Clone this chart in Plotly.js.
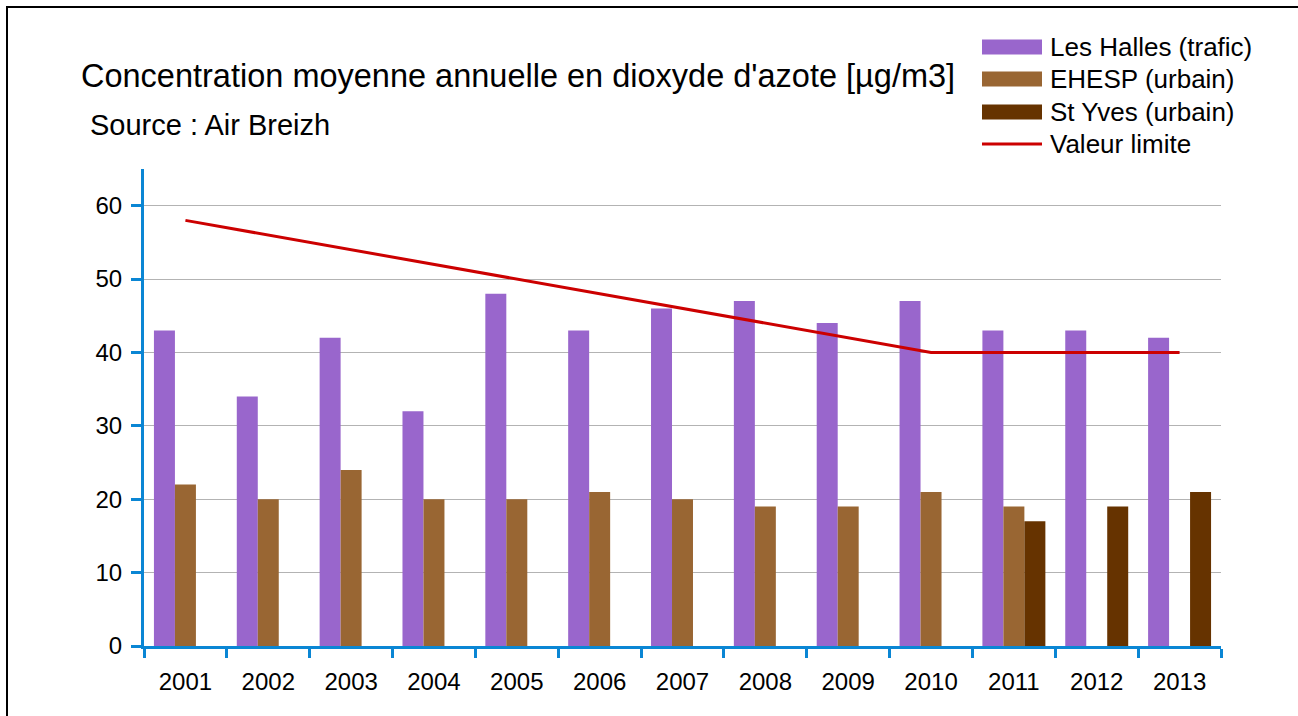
<!DOCTYPE html>
<html>
<head>
<meta charset="utf-8">
<script src="https://cdn.plot.ly/plotly-3.0.1.min.js"></script>
<style>
  html, body { margin: 0; padding: 0; background: #fff; overflow: hidden; }
  #chart { width: 1298px; height: 716px; }
</style>
</head>
<body>
<div id="chart"></div>
<script>
const years = ["2001","2002","2003","2004","2005","2006","2007","2008","2009","2010","2011","2012","2013"];
const lesHalles = [43, 34, 42, 32, 48, 43, 46, 47, 44, 47, 43, 43, 42];
const ehesp     = [22, 20, 24, 20, 20, 21, 20, 19, 19, 21, 19, null, null];
const stYves    = [null, null, null, null, null, null, null, null, null, null, 17, 19, 21];
const valeurLimite = [58, 56, 54, 52, 50, 48, 46, 44, 42, 40, 40, 40, 40];

const seriesNames = ["Les Halles (trafic)", "EHESP (urbain)", "St Yves (urbain)", "Valeur limite"];
const seriesColors = ["#9966cc", "#996633", "#663300", "#cc0000"];
const titleText = "Concentration moyenne annuelle en dioxyde d'azote [µg/m3]";
const subtitleText = "Source : Air Breizh";

const FONT = "Liberation Sans, Arial, sans-serif";
const AXIS_BLUE = "#0a86d4";

// plot area in pixels (for converting decoration positions to paper coords)
const PL = 144, PR = 1221, PT = 169, PB = 646;
const px = v => (v - PL) / (PR - PL);
const py = v => (PB - v) / (PB - PT);

const traces = [
  { type: "bar", name: seriesNames[0], x: years, y: lesHalles, marker: { color: seriesColors[0] } },
  { type: "bar", name: seriesNames[1], x: years, y: ehesp, marker: { color: seriesColors[1] } },
  { type: "bar", name: seriesNames[2], x: years, y: stYves, marker: { color: seriesColors[2] } },
  { type: "scatter", mode: "lines", name: seriesNames[3], x: years, y: valeurLimite,
    line: { color: seriesColors[3], width: 3 } }
];

// outer frame (top and left edges visible in the original)
const shapes = [
  { type: "line", xref: "paper", yref: "paper", x0: px(6), x1: px(1310), y0: py(7), y1: py(7),
    line: { color: "#000", width: 2 } },
  { type: "line", xref: "paper", yref: "paper", x0: px(7), x1: px(7), y0: py(6), y1: py(730),
    line: { color: "#000", width: 2 } }
];
const annotations = [];

// custom legend (wide swatches like the original)
const legendRows = [47, 79, 112, 144];
seriesNames.forEach((n, i) => {
  const cy = legendRows[i];
  if (i < 3) {
    shapes.push({ type: "rect", xref: "paper", yref: "paper",
      x0: px(982), x1: px(1042), y0: py(cy + 7.5), y1: py(cy - 7.5),
      fillcolor: seriesColors[i], line: { width: 0 } });
  } else {
    shapes.push({ type: "line", xref: "paper", yref: "paper",
      x0: px(982), x1: px(1042), y0: py(cy), y1: py(cy),
      line: { color: seriesColors[i], width: 3 } });
  }
  annotations.push({ text: n, showarrow: false, xref: "paper", yref: "paper",
    x: px(1048), xanchor: "left", y: py(cy), yanchor: "middle",
    font: { family: FONT, size: 26, color: "#000" } });
});
annotations.push({
  text: subtitleText, showarrow: false,
  xref: "paper", yref: "paper",
  x: px(88), xanchor: "left",
  y: py(125), yanchor: "middle",
  font: { family: FONT, size: 29, color: "#000" }
});

const layout = {
  width: 1298, height: 716,
  margin: { l: PL, r: 1298 - PR, t: PT, b: 716 - PB },
  paper_bgcolor: "#fff", plot_bgcolor: "#fff",
  font: { family: FONT, color: "#000", size: 24 },
  barmode: "group", bargap: 0.24, bargroupgap: 0,
  showlegend: false,
  title: {
    text: titleText,
    font: { family: FONT, size: 32.5, color: "#000" },
    xref: "container", yref: "container",
    x: 81 / 1298, xanchor: "left",
    y: 1 - 76 / 716, yanchor: "middle"
  },
  shapes: shapes,
  annotations: annotations,
  xaxis: {
    type: "category",
    range: [-0.5, 12.5],
    showline: true, linecolor: AXIS_BLUE, linewidth: 3,
    ticks: "outside", tickson: "boundaries", ticklen: 9, tickwidth: 3, tickcolor: AXIS_BLUE,
    ticklabelstandoff: 12,
    showgrid: false, zeroline: false,
    tickfont: { family: FONT, size: 24, color: "#000" },
    fixedrange: true
  },
  yaxis: {
    range: [0, 65], dtick: 10, tick0: 0,
    showline: true, linecolor: AXIS_BLUE, linewidth: 3,
    ticks: "outside", ticklen: 10, tickwidth: 3, tickcolor: AXIS_BLUE,
    ticklabelstandoff: 4,
    showgrid: true, gridcolor: "#b3b3b3", gridwidth: 1,
    zeroline: false,
    tickfont: { family: FONT, size: 24, color: "#000" },
    fixedrange: true
  }
};

Plotly.newPlot("chart", traces, layout, { displayModeBar: false, staticPlot: true });
</script>
</body>
</html>
